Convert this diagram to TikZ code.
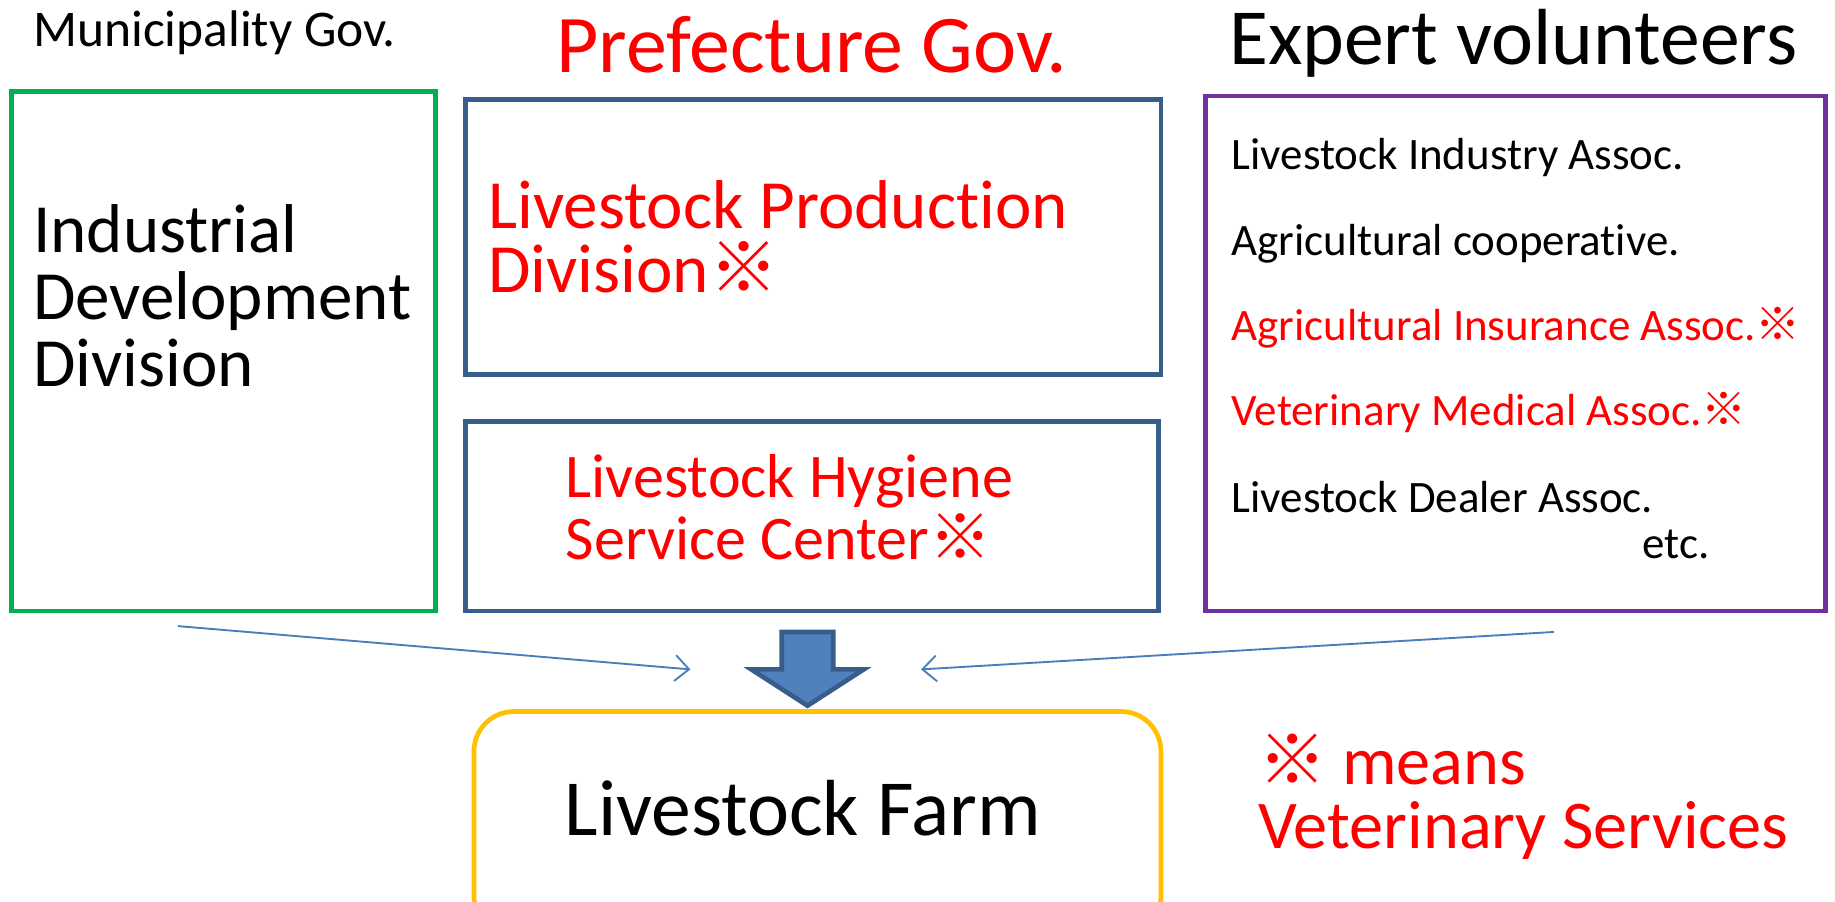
\documentclass[tikz,border=0pt]{standalone}
\usepackage{fontspec}
\setmainfont{Carlito}[Ligatures=NoCommon]
\newfontfamily\cjk{Noto Sans CJK JP}
\usetikzlibrary{positioning,arrows.meta}
\newcommand{\kome}{{\cjk ※}}
\definecolor{munigreen}{RGB}{0,176,80}
\definecolor{prefblue}{RGB}{56,93,138}
\definecolor{volpurple}{RGB}{112,48,160}
\definecolor{farmyellow}{RGB}{255,192,0}
\definecolor{arrowfill}{RGB}{79,129,189}
\definecolor{linkblue}{RGB}{74,126,187}
\definecolor{vetred}{RGB}{255,0,0}

\begin{document}
\begin{tikzpicture}
  [x=0.5pt, y=-0.5pt,
  every node/.style={inner sep=0pt, anchor=base west, align=left},
  frame/.style={line width=2pt},
  head/.style={font=\fontsize{34}{40}\selectfont},
  boxtext/.style={font=\fontsize{29.5}{28.5}\selectfont},
  listtext/.style={font=\fontsize{19.2}{23}\selectfont},
  vet/.style={text=vetred},
  link/.style={linkblue, line width=0.8pt, -{Straight Barb[length=6pt,width=11pt]}},
  ]
  \useasboundingbox (0,0) rectangle (1568,770);
  \clip (0,0) rectangle (1568,770);

  % frames
  \draw[frame, munigreen] (10,78) rectangle (372,522);
  \draw[frame, prefblue] (398,85) rectangle (992,320);
  \draw[frame, prefblue] (398,360) rectangle (990,522);
  \draw[frame, volpurple] (1030,82) rectangle (1560,522);
  \draw[frame, farmyellow, rounded corners=17pt] (405,608) rectangle (992,800);

  % headings
  \node[font=\fontsize{22}{26}\selectfont] (muni) at (28,40) {Municipality Gov.};
  \node[head, vet, font=\fontsize{35}{40}\selectfont] (pref) at (475,62) {Prefecture Gov.};
  \node[head] (volunteers) at (1050,55) {Expert volunteers};

  % divisions (base = last line)
  \node[boxtext] (indus) at (28,330) {Industrial\\Development\\Division};
  \node[boxtext, vet, font=\fontsize{29.5}{27.5}\selectfont] (prod) at (417,250) {Livestock Production\\Division\kome};
  \node[boxtext, vet, font=\fontsize{26.5}{26.5}\selectfont] (hygiene) at (483,478) {Livestock Hygiene\\Service Center\kome};

  % volunteers
  \node[listtext] (industry) at (1052,145) {Livestock Industry Assoc.};
  \node[listtext] (coop) at (1052,218) {Agricultural cooperative.};
  \node[listtext, vet] (insure) at (1052,291) {Agricultural Insurance Assoc.\kome};
  \node[listtext, vet] (medical) at (1052,364) {Veterinary Medical Assoc.\kome};
  \node[listtext] (dealer) at (1052,438) {Livestock Dealer Assoc.};
  \node[listtext] (etc) at (1403,477) {etc.};

  % farm and note
  \node[head, anchor=base] (farm) at (686,714) {Livestock Farm};
  \node[font=\fontsize{29.2}{27.5}\selectfont, vet] (note) at (1075,725) {\kome{} means\\Veterinary Services};

  % arrows
  \draw[line width=2pt, prefblue, fill=arrowfill]
    (668,540) -- (712,540) -- (712,572) -- (738,572) -- (690,603)
    -- (642,572) -- (668,572) -- cycle;
  \coordinate (munifoot) at (152,535);
  \coordinate (leftin) at (590,572);
  \coordinate (volfoot) at (1328,540);
  \coordinate (rightin) at (787,572);
  \draw[link] (munifoot) -- (leftin);
  \draw[link] (volfoot) -- (rightin);
\end{tikzpicture}
\end{document}
